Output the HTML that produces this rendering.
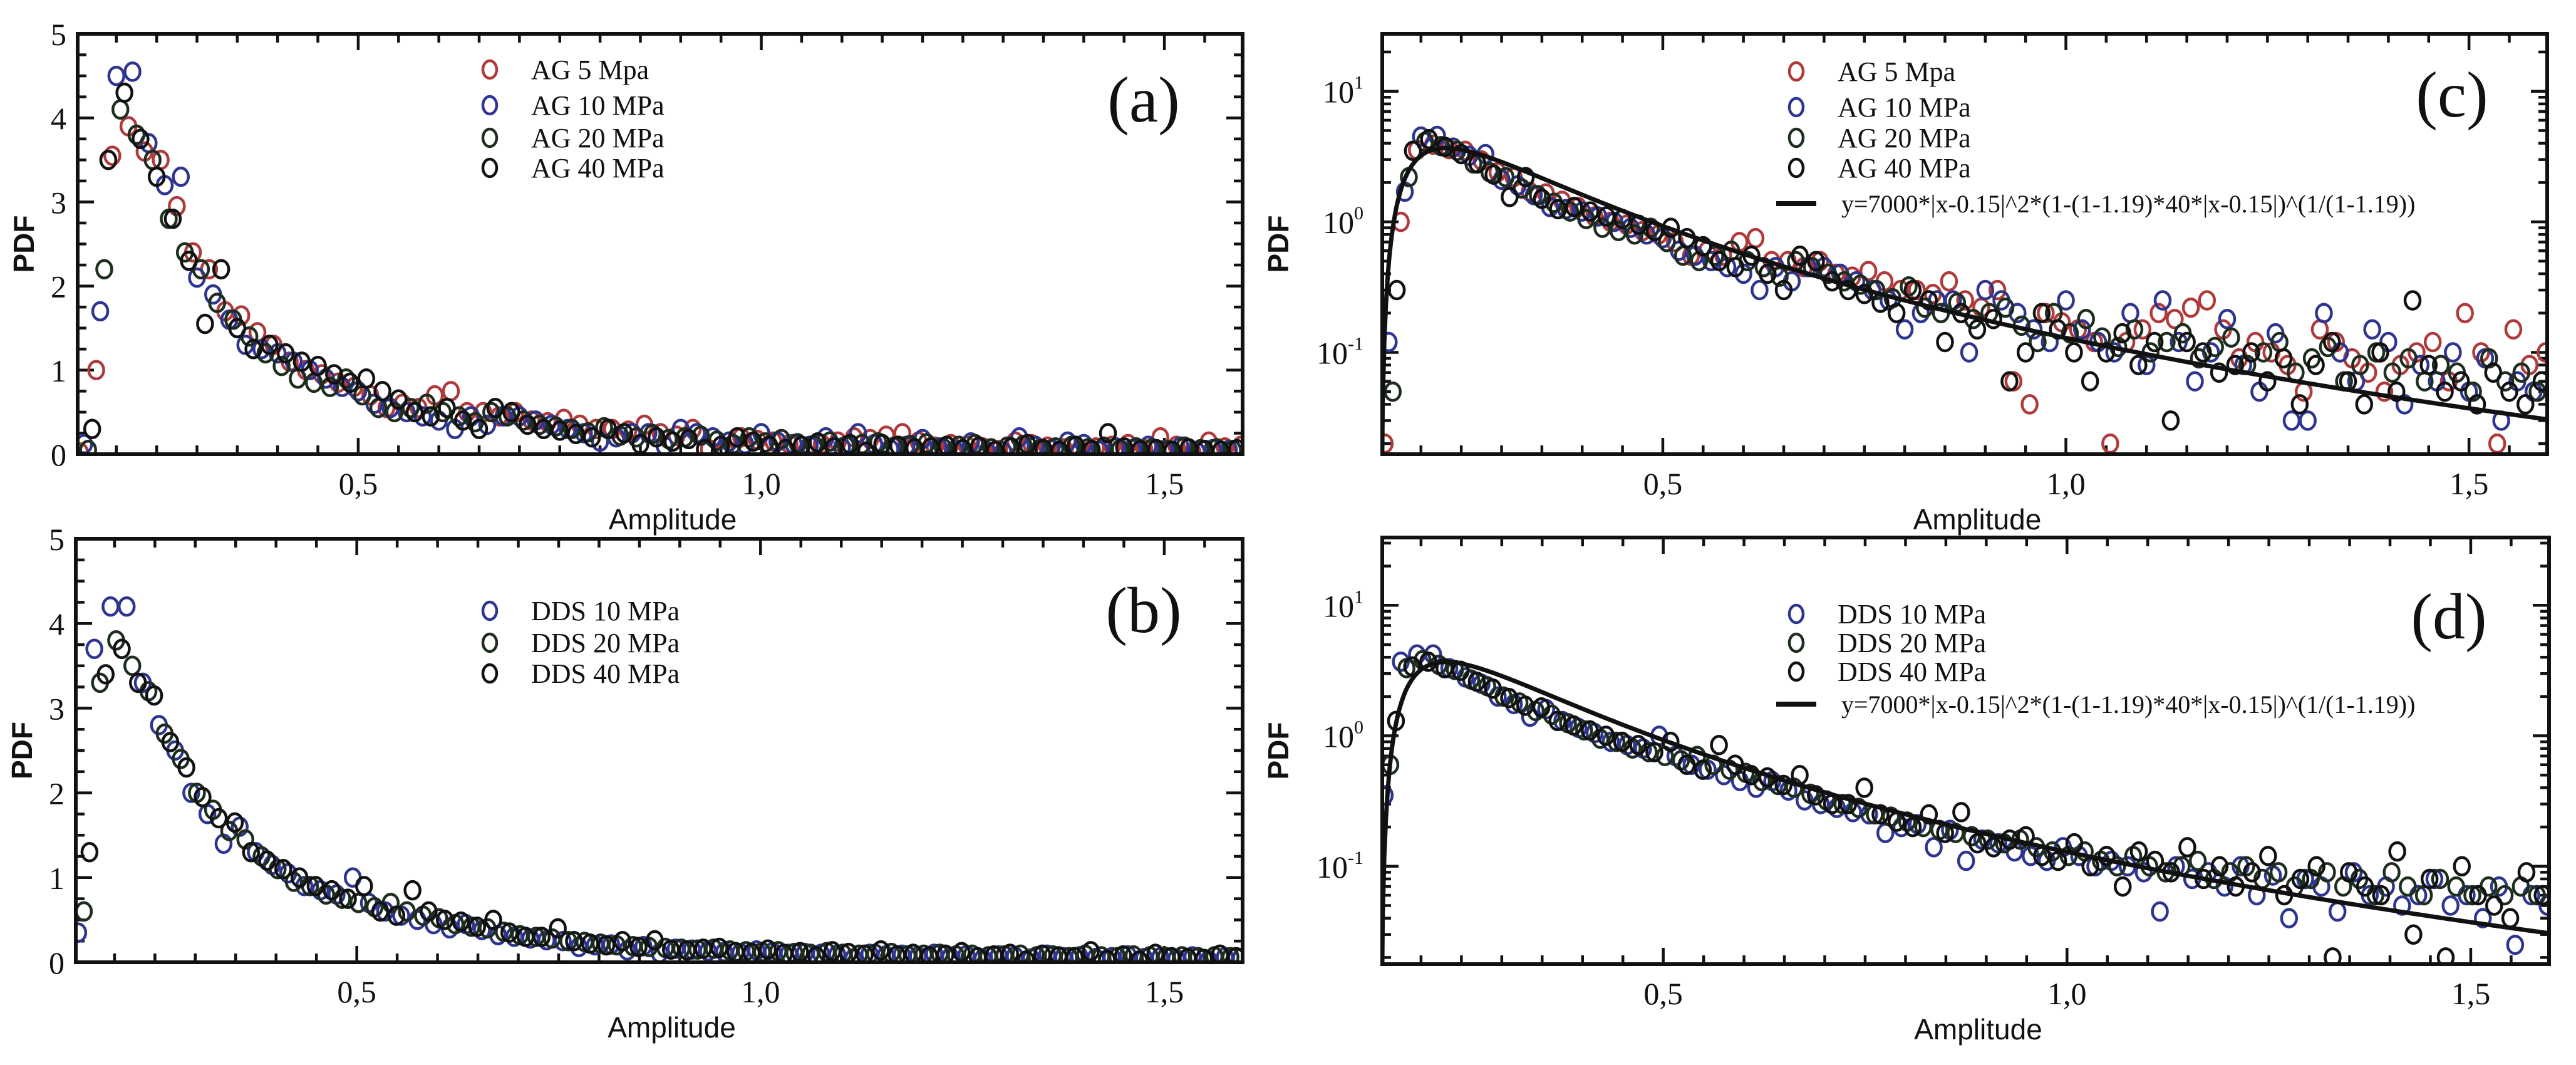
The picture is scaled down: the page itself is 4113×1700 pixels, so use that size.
<!DOCTYPE html>
<html><head><meta charset="utf-8"><style>
html,body{margin:0;padding:0;background:#fff;}
svg{display:block;}
</style></head><body>
<svg id="fig" width="4113" height="1700" viewBox="0 0 4113 1700" xmlns="http://www.w3.org/2000/svg"></svg>
<script>
// ---- data ----
const xStart = 0.155;
const xStep = 0.02;
const ag5 = [0.02,1.0,3.55,3.9,3.6,3.5,2.95,2.4,2.2,1.7,1.65,1.45,1.3,1.1,1.0,0.95,0.85,0.8,0.7,0.55,0.6,0.55,0.7,0.75,0.5,0.5,0.45,0.5,0.4,0.38,0.42,0.35,0.3,0.3,0.28,0.35,0.25,0.22,0.3,0.06,0.04,0.2,0.17,0.15,0.12,0.02,0.12,0.15,0.2,0.18,0.22,0.25,0.15,0.09,0.12,0.1,0.08,0.05,0.15,0.12,0.09,0.07,0.05,0.08,0.1,0.12,0.06,0.2,0.1,0.02,0.15,0.08,0.1];
const ag10 = [0.12,1.7,4.5,4.55,3.7,3.2,3.3,2.1,1.9,1.6,1.3,1.25,1.2,1.1,1.0,0.9,0.8,0.75,0.6,0.55,0.5,0.45,0.4,0.3,0.45,0.35,0.45,0.45,0.4,0.35,0.3,0.25,0.15,0.2,0.25,0.25,0.1,0.3,0.25,0.2,0.15,0.12,0.25,0.15,0.12,0.1,0.2,0.08,0.25,0.12,0.06,0.1,0.18,0.08,0.05,0.14,0.03,0.03,0.2,0.1,0.06,0.15,0.12,0.04,0.08,0.06,0.1,0.05,0.09,0.03,0.06,0.05,0.08];
const ag20 = [0.05,2.2,4.1,3.8,3.5,2.8,2.4,2.2,1.8,1.6,1.4,1.2,1.05,0.9,0.85,0.8,0.9,0.7,0.55,0.5,0.55,0.6,0.5,0.45,0.38,0.5,0.45,0.4,0.35,0.33,0.3,0.26,0.32,0.22,0.2,0.24,0.18,0.2,0.22,0.16,0.12,0.2,0.14,0.18,0.13,0.11,0.15,0.1,0.12,0.14,0.09,0.11,0.13,0.08,0.1,0.12,0.07,0.09,0.11,0.06,0.08,0.1,0.07,0.09,0.06,0.08,0.07,0.05,0.09,0.06,0.07,0.05,0.06];
const ag40 = [0.3,3.5,4.3,3.75,3.3,2.8,2.3,1.55,2.2,1.5,1.25,1.3,1.2,1.1,1.05,0.95,0.85,0.9,0.75,0.65,0.5,0.45,0.55,0.4,0.3,0.55,0.5,0.35,0.3,0.28,0.24,0.2,0.3,0.25,0.12,0.2,0.15,0.18,0.06,0.1,0.2,0.15,0.1,0.06,0.1,0.14,0.08,0.12,0.03,0.12,0.1,0.07,0.08,0.1,0.06,0.09,0.04,0.08,0.12,0.06,0.04,0.1,0.05,0.25,0.08,0.05,0.06,0.04,0.07,0.05,0.04,0.06,0.05];
const dds10 = [0.35,3.7,4.2,4.2,3.3,2.8,2.5,2.0,1.75,1.4,1.6,1.3,1.15,1.05,0.9,0.85,0.8,1.0,0.7,0.6,0.55,0.5,0.45,0.4,0.45,0.38,0.32,0.3,0.28,0.26,0.25,0.18,0.2,0.21,0.14,0.19,0.11,0.16,0.15,0.13,0.12,0.11,0.14,0.12,0.1,0.11,0.1,0.09,0.045,0.1,0.08,0.09,0.07,0.1,0.06,0.085,0.04,0.08,0.07,0.045,0.09,0.06,0.07,0.05,0.06,0.08,0.05,0.06,0.04,0.07,0.025,0.06,0.05];
const dds20 = [0.6,3.3,3.8,3.5,3.2,2.7,2.4,2.0,1.8,1.55,1.45,1.25,1.1,0.95,0.9,0.8,0.75,0.7,0.65,0.7,0.6,0.55,0.52,0.45,0.42,0.4,0.36,0.32,0.3,0.28,0.25,0.24,0.22,0.2,0.19,0.18,0.17,0.16,0.15,0.16,0.14,0.13,0.12,0.13,0.11,0.1,0.12,0.1,0.09,0.1,0.11,0.08,0.09,0.1,0.08,0.09,0.07,0.08,0.09,0.07,0.08,0.06,0.09,0.07,0.06,0.08,0.07,0.06,0.07,0.06,0.07,0.06,0.08];
const dds40 = [1.3,3.4,3.7,3.3,3.15,2.6,2.3,1.95,1.7,1.65,1.3,1.2,1.1,1.0,0.9,0.85,0.75,0.9,0.6,0.55,0.85,0.6,0.5,0.48,0.42,0.5,0.35,0.3,0.3,0.4,0.25,0.22,0.2,0.25,0.18,0.26,0.15,0.14,0.16,0.17,0.12,0.11,0.15,0.1,0.12,0.07,0.13,0.11,0.09,0.14,0.08,0.1,0.07,0.09,0.12,0.06,0.08,0.1,0.02,0.09,0.07,0.06,0.13,0.03,0.08,0.02,0.1,0.06,0.05,0.04,0.09,0.06,0.1];
const agLabels = ["AG 5 Mpa","AG 10 MPa","AG 20 MPa","AG 40 MPa"];
const ddsLabels = ["DDS 10 MPa","DDS 20 MPa","DDS 40 MPa"];
const agOffsets = [0,0.005,0.01,0.015];
const ddsOffsets = [0,0.007,0.014];
const fitParams = [7000,0.15,1.19,40];
const xTickLabels = ["0,5","1,0","1,5"];
const xTickValues = [0.5,1.0,1.5];
const linTickValues = [0,1,2,3,4,5];
const logTickValues = [-1,0,1];
const fitLabel = "y=7000*|x-0.15|^2*(1-(1-1.19)*40*|x-0.15|)^(1/(1-1.19))";

const NS="http://www.w3.org/2000/svg";
const svg=document.getElementById('fig');
function mk(tag,attrs,parent){const e=document.createElementNS(NS,tag);for(const k in attrs)e.setAttribute(k,attrs[k]);(parent||svg).appendChild(e);return e;}

const agColors=["#b03a3a","#2e3590","#1e2e1e","#111111"];
const ddsColors=["#2e3590","#1e2e1e","#111111"];
const X0=0.152,X1=1.597;

function panel(id,L,R,T,B,log,ymin,ymax,series,offsets,labels,colors,legX,legYs,tag,tagX,tagY,withFit){
  const g=mk('g',{});
  
  
  const sx=v=>L+(v-X0)/(X1-X0)*(R-L);
  const sy=v=>{const t=log?Math.log10(v):v;return B-(t-ymin)/(ymax-ymin)*(B-T);};
  const cid='clip-'+id;
  const cp=mk('clipPath',{id:cid},g);mk('rect',{x:L,y:T,width:R-L,height:B-T},cp);
  for(let v=0.2;v<=1.6;v+=0.05){const vv=Math.round(v*100)/100;const px=sx(vv);if(px<L||px>R)continue;
    const major=Math.abs(vv*2-Math.round(vv*2))<1e-6;const len=major?26:14;
    mk('line',{x1:px,y1:B,x2:px,y2:B-len,stroke:'#111','stroke-width':4.5},g);
    mk('line',{x1:px,y1:T,x2:px,y2:T+len,stroke:'#111','stroke-width':4.5},g);}
  xTickValues.forEach((v,i)=>{const t=mk('text',{x:sx(v),y:B+64,'text-anchor':'middle','font-family':'Liberation Serif, serif','font-size':50,fill:'#111'},g);t.textContent=xTickLabels[i];
    });
  if(!log){
    for(let v=0;v<=5.001;v+=0.25){const py=sy(v);const major=Math.abs(v-Math.round(v))<1e-6;const len=major?26:14;
      mk('line',{x1:L,y1:py,x2:L+len,y2:py,stroke:'#111','stroke-width':4.5},g);
      mk('line',{x1:R,y1:py,x2:R-len,y2:py,stroke:'#111','stroke-width':4.5},g);}
    linTickValues.forEach(v=>{const t=mk('text',{x:L-18,y:sy(v)+18,'text-anchor':'end','font-family':'Liberation Serif, serif','font-size':50,fill:'#111'},g);t.textContent=v;
      });
  } else {
    for(let d=-2;d<=1;d++){for(let m=1;m<=9;m++){const v=m*Math.pow(10,d);const lv=Math.log10(v);if(lv<ymin||lv>ymax)continue;const py=sy(v);const len=m==1?26:14;
      mk('line',{x1:L,y1:py,x2:L+len,y2:py,stroke:'#111','stroke-width':4.5},g);
      mk('line',{x1:R,y1:py,x2:R-len,y2:py,stroke:'#111','stroke-width':4.5},g);}}
    logTickValues.forEach(e=>{const py=sy(Math.pow(10,e));const t=mk('text',{x:L-30,y:py+18,'text-anchor':'end','font-family':'Liberation Serif, serif','font-size':50,fill:'#111'},g);
      t.textContent='10';const s=mk('tspan',{dy:-22,'font-size':30},t);s.textContent=String(e);
      });
  }
  const xt=mk('text',{x:(L+R)/2+20,y:B+120,'text-anchor':'middle','font-family':'Liberation Sans, sans-serif','font-size':46,fill:'#111'},g);xt.textContent='Amplitude';
  
  const yx=log?L-150:L-70;
  const yt=mk('text',{x:yx,y:(T+B)/2,'text-anchor':'middle','font-family':'Liberation Sans, sans-serif','font-size':46,'font-weight':'bold',fill:'#111',transform:`rotate(-90 ${yx} ${(T+B)/2})`},g);yt.textContent='PDF';
  
  const dg=mk('g',{'clip-path':`url(#${cid})`},g);
  series.forEach((arr,si)=>{arr.forEach((v,i)=>{const x=xStart+i*xStep+offsets[si];if(x>X1)return;
    const c=mk('ellipse',{cx:sx(x),cy:sy(v),rx:12,ry:14,fill:'none',stroke:colors[si],'stroke-width':4.5},dg);
    
    });});
  if(withFit){
    const [A,x0,q,b]=fitParams;let d='';
    for(let x=x0+0.0005;x<=X1;x+=0.002){const dx=Math.abs(x-x0);const y=A*dx*dx*Math.pow(1-(1-q)*b*dx,1/(1-q));d+=(d?'L':'M')+sx(x).toFixed(1)+','+sy(y).toFixed(1);}
    const p=mk('path',{d:d,fill:'none',stroke:'#111','stroke-width':7},dg);
    
  }
  const fr=mk('rect',{x:L,y:T,width:R-L,height:B-T,fill:'none',stroke:'#111','stroke-width':6},g);
  
  labels.forEach((lab,i)=>{const y=legYs[i];
    const m=mk('ellipse',{cx:legX,cy:y,rx:11,ry:14,fill:'none',stroke:colors[i],'stroke-width':4.5},g);
    
    const t=mk('text',{x:legX+66,y:y+15,'font-family':'Liberation Serif, serif','font-size':44,fill:'#111'},g);t.textContent=lab;
    });
  if(withFit){const y=legYs[labels.length];
    mk('line',{x1:legX-32,y1:y,x2:legX+32,y2:y,stroke:'#111','stroke-width':8},g);
    const t=mk('text',{x:legX+72,y:y+14,'font-family':'Liberation Serif, serif','font-size':40,fill:'#111'},g);t.textContent=fitLabel;
    }
  const tg=mk('text',{x:tagX,y:tagY+34,'text-anchor':'middle','font-family':'Liberation Serif, serif','font-size':104,fill:'#111'},g);tg.textContent=tag;
  
}
panel('a',124,1984,54,725,false,0,5,[ag5,ag10,ag20,ag40],agOffsets,agLabels,agColors,782,[111,168,220,268],'(a)',1826,160,false);
panel('b',121,1984,860,1536,false,0,5,[dds10,dds20,dds40],ddsOffsets,ddsLabels,ddsColors,782,[975,1026,1075],'(b)',1826,975,false);
panel('c',2207,4067,54,725,true,-1.78,1.44,[ag5,ag10,ag20,ag40],agOffsets,agLabels,agColors,2868,[114,171,220,268,325],'(c)',3915,152,true);
panel('d',2207,4070,858,1539,true,-1.75,1.52,[dds10,dds20,dds40],ddsOffsets,ddsLabels,ddsColors,2868,[980,1026,1072,1124],'(d)',3910,985,true);
</script>
</body></html>
